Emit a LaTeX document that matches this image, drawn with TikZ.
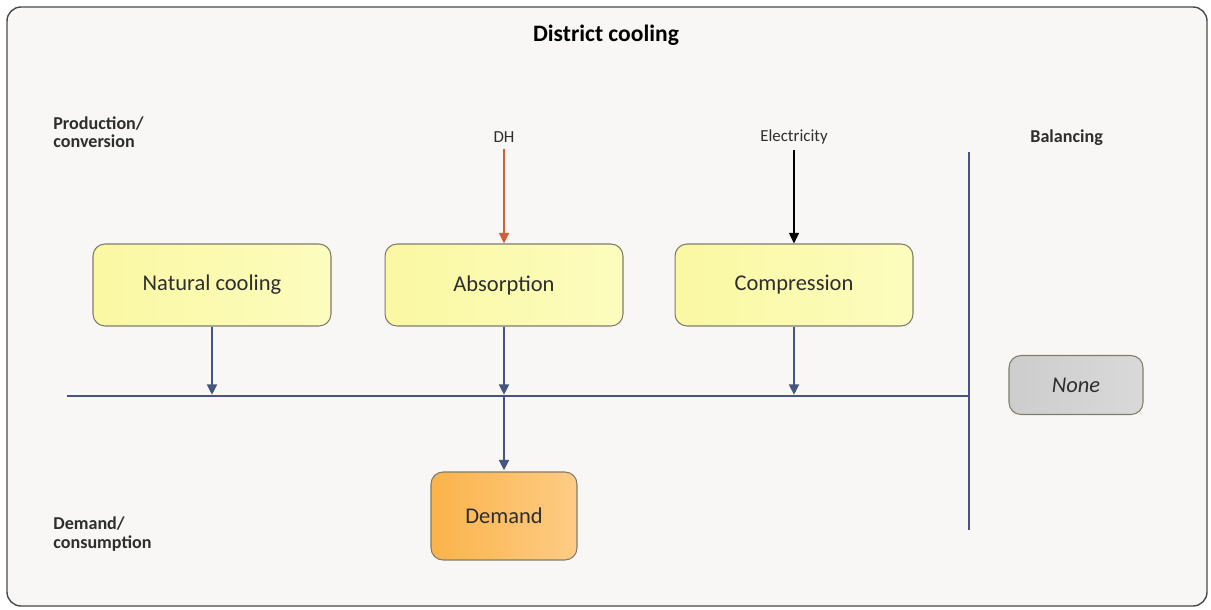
\documentclass[tikz,border=0pt]{standalone}
\usepackage{fontspec}
\setmainfont{Carlito}
\usetikzlibrary{arrows.meta}
\definecolor{bgcol}{HTML}{F8F7F5}
\definecolor{framecol}{HTML}{4A4A4A}
\definecolor{boxline}{HTML}{7E7D6C}
\definecolor{yelA}{HTML}{FAF8A2}
\definecolor{yelB}{HTML}{FCFCBE}
\definecolor{demA}{HTML}{FBB34A}
\definecolor{demB}{HTML}{FDCC85}
\definecolor{noneA}{HTML}{CDCDCD}
\definecolor{noneB}{HTML}{D9D9D9}
\definecolor{busblue}{HTML}{46557F}
\definecolor{dhred}{HTML}{CF5F3A}
\definecolor{txt}{HTML}{2E2E2E}

\begin{document}
\begin{tikzpicture}[x=0.02cm,y=-0.02cm,
		proc/.style={draw=boxline,line width=0.6pt,rounded corners=0.24cm,minimum width=4.76cm,minimum height=1.64cm,
			left color=yelA,right color=yelB,text=txt,font=\fontsize{12.8}{14}\selectfont},
		side/.style={font=\fontsize{10.3}{10.5}\selectfont\bfseries,text=txt,align=left,anchor=west,inner sep=0pt},
		src/.style={font=\fontsize{9.6}{11}\selectfont,text=txt},
		tip/.style={-{Triangle[length=6pt,width=5.5pt]}},
		flow/.style={draw=busblue,line width=1.6pt,tip,shorten >=0.6pt}]
		\useasboundingbox[fill=white] (0,0) rectangle (1211,609);
		\draw[draw=framecol,fill=bgcol,line width=0.8pt,rounded corners=0.28cm] (7,7) rectangle (1207,606);

		\node[font=\fontsize{13.4}{15}\selectfont\bfseries,text=black] (title) at (606,35) {District cooling};
		\node[side] (prod) at (53,132) {Production/\\conversion};
		\node[side] (bal) at (1030,138) {Balancing};
		\node[side] (cons) at (53,534) {Demand/\\consumption};

		\node[src] (dh) at (504,137) {DH};
		\node[src] (el) at (794,137) {Electricity};

		\node[proc] (nat) at (212,285) {Natural cooling};
		\node[proc] (abs) at (504,285) {Absorption};
		\node[proc] (comp) at (794,285) {Compression};
		\node[proc,minimum width=2.92cm,minimum height=1.76cm,left color=demA,right color=demB] (dem) at (504,516) {Demand};
		\node[proc,minimum width=2.68cm,minimum height=1.18cm,left color=noneA,right color=noneB,font=\fontsize{12.8}{14}\selectfont\itshape] (none) at (1076,385) {None};

		\coordinate (busL) at (67,396);
		\coordinate (busR) at (969,396);
		\coordinate (divT) at (969,152);
		\coordinate (divB) at (969,530);
		\draw[busblue,line width=1.6pt] (busL) -- (busR);
		\draw[busblue,line width=1.6pt] (divT) -- (divB);

		\draw[dhred,line width=1.2pt,tip] (dh) -- (abs);
		\draw[black,line width=1.2pt,tip] (el) -- (comp);

		\draw[flow] (nat.south) -- (nat.south |- busL);
		\draw[flow] (abs.south) -- (abs.south |- busL);
		\draw[flow] (comp.south) -- (comp.south |- busL);
		\coordinate (jn) at (abs.south |- busL);
		\draw[flow] (jn) -- (dem.north);
	\end{tikzpicture}
\end{document}
